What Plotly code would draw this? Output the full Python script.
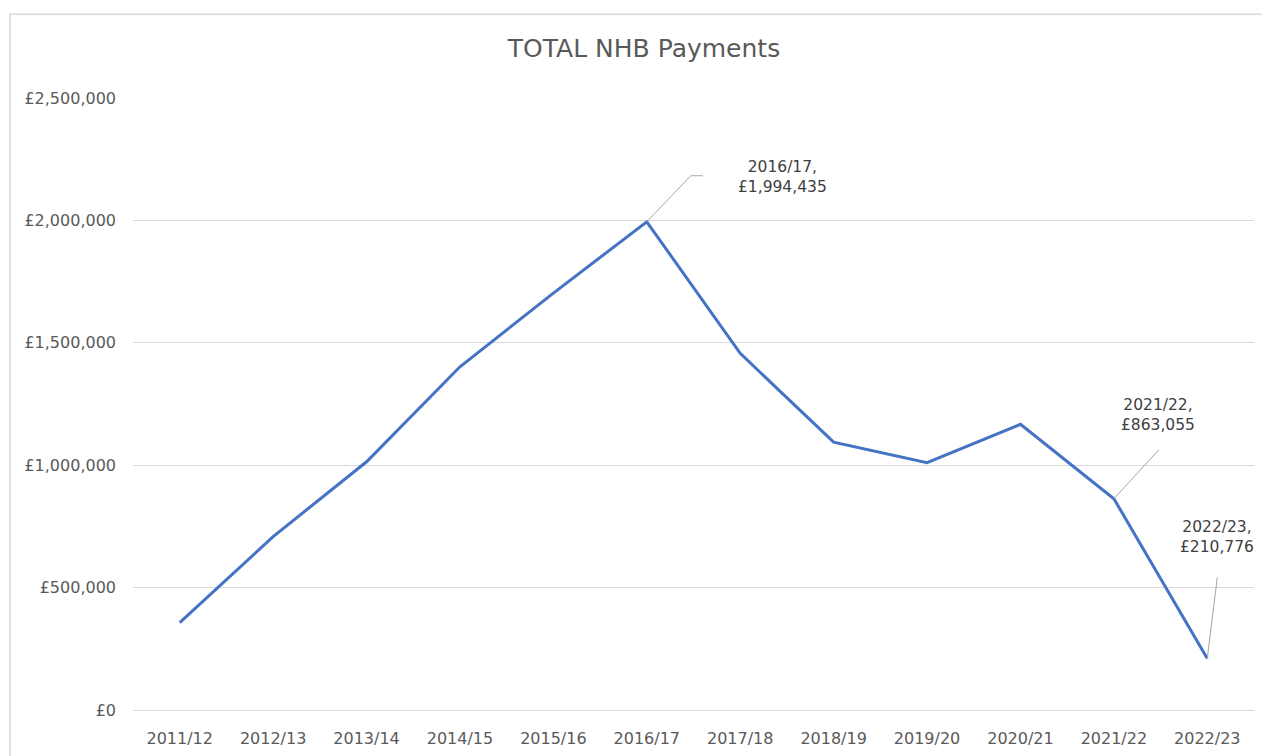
import plotly.graph_objects as go

years = ["2011/12", "2012/13", "2013/14", "2014/15", "2015/16", "2016/17",
         "2017/18", "2018/19", "2019/20", "2020/21", "2021/22", "2022/23"]
payments = [357000, 708000, 1014000, 1402000, 1703000, 1994435,
            1457000, 1094000, 1010000, 1167000, 863055, 210776]

labelled = ["2016/17", "2021/22", "2022/23"]
# label offsets (px) and leader-line paths (px, relative to point)
label_shift = {"2016/17": (136, 45), "2021/22": (44, 84), "2022/23": (10, 121)}
leader_path = {"2016/17": "M0,0 L44,46 L56,46",
               "2021/22": "M0,0 L45,49",
               "2022/23": "M0,0 L10,81"}

TICK = "#595959"
GRID = "#d9d9d9"
FONT = "DejaVu Sans"
W, H = 1262, 748  # page body has an 8px margin

fig = go.Figure()
fig.add_trace(go.Scatter(
    x=years, y=payments, mode="lines",
    line=dict(color="#4472C4", width=3),
    hoverinfo="x+y", showlegend=False,
))

for yr in labelled:
    i = years.index(yr)
    v = payments[i]
    dx, dy = label_shift[yr]
    fig.add_annotation(
        x=yr, y=v, xref="x", yref="y",
        text=f"{yr},<br>£{v:,}", showarrow=False,
        xshift=dx, yshift=dy, xanchor="center", yanchor="middle",
        font=dict(family=FONT, size=15.5, color="#404040"),
    )
    fig.add_shape(
        type="path", xref="x", yref="y",
        xsizemode="pixel", ysizemode="pixel",
        xanchor=i, yanchor=v, path=leader_path[yr],
        line=dict(color="#a6a6a6", width=1),
    )

# outer chart border
fig.add_shape(type="rect", xref="paper", yref="paper",
              x0=-0.1097, x1=1.03, y0=-0.2, y1=1.137,
              line=dict(color=GRID, width=1.5), layer="below")

fig.update_layout(
    width=W, height=H,
    margin=dict(l=125, r=16, t=90, b=46),
    paper_bgcolor="white", plot_bgcolor="white",
    title=dict(text="TOTAL NHB Payments", x=636 / W, xref="container",
               xanchor="center", y=1 - 40 / H, yanchor="middle",
               font=dict(family=FONT, size=25, color=TICK)),
    font=dict(family=FONT, color=TICK),
)
fig.update_xaxes(
    type="category", range=[-0.5, len(years) - 0.5],
    showgrid=False, showline=False, ticks="", automargin=False,
    tickfont=dict(family=FONT, size=16, color=TICK),
    ticklabelstandoff=17,
)
fig.update_yaxes(
    range=[0, 2500000], dtick=500000, tickprefix="£", tickformat=",d",
    showgrid=True, gridcolor=GRID, gridwidth=1, automargin=False,
    zeroline=True, zerolinecolor=GRID, zerolinewidth=1,
    showline=False, ticks="",
    tickfont=dict(family=FONT, size=16, color=TICK),
    ticklabelstandoff=16,
)

fig.write_html("out.html")
